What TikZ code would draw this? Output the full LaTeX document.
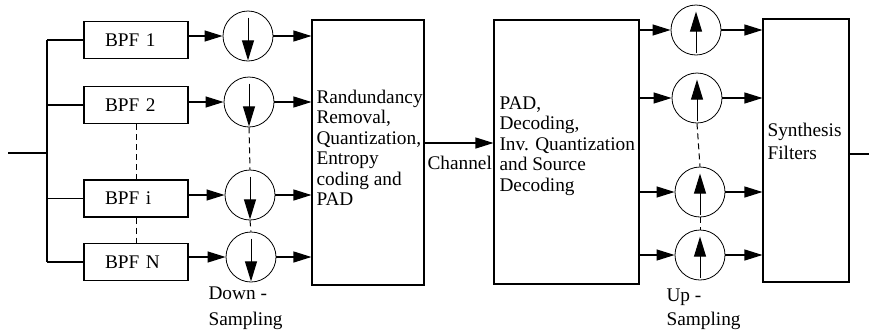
\documentclass[tikz,border=0pt]{standalone}
\usepackage{fontspec}
\setmainfont{Liberation Serif}
\usetikzlibrary{arrows.meta}
\begin{document}
\begin{tikzpicture}[x=1pt,y=-1pt,line width=1.1pt,
  bpf/.style={draw, line width=1.1pt, minimum height=37pt, text width=62pt, align=left, inner xsep=21pt, inner ysep=0pt, font=\fontsize{19.3}{20.5}\selectfont},
  samp/.style={draw, circle, line width=0.8pt, minimum size=50pt, inner sep=0pt},
  big/.style={draw, line width=1.1pt, inner sep=0pt},
  lbl/.style={inner sep=0pt, align=left, font=\fontsize{19.3}{20.5}\selectfont},
  arr/.style={-{Triangle[length=18pt,width=11pt]}},
  iarr/.style={line width=1pt, -{Triangle[length=20pt,width=12pt]}},
  dsh/.style={dash pattern=on 6pt off 4pt, line width=1pt}]
\useasboundingbox (0,0) rectangle (869,330);

% analysis filters
\node[bpf] (bpf1) at (136,40) {BPF 1};
\node[bpf] (bpf2) at (136,105) {BPF 2};
\node[bpf] (bpfi) at (136,198.5) {BPF i};
\node[bpf] (bpfN) at (136,262) {BPF N};

% input and trunk
\coordinate (in) at (8,153);
\coordinate (tr) at (47,153);
\coordinate (ttop) at (47,40);
\coordinate (tbot) at (47,262);
\draw (in) -- (tr);
\draw (ttop) -- (tbot);
\draw (ttop) -- (bpf1.west);
\draw (bpf2.west -| tr) -- (bpf2.west);
\draw (bpfi.west -| tr) -- (bpfi.west);
\draw (tbot) -- (bpfN.west);
\draw[dsh] (bpf2.south) -- (bpfi.north);
\draw[dsh] (bpfi.south) -- (bpfN.north);

% down-samplers
\node[samp] (d1) at (248,36) {};
\node[samp] (d2) at (249,102) {};
\node[samp] (di) at (250,195) {};
\node[samp] (dN) at (251,257) {};
\foreach \c in {d1,d2,di,dN}{
  \draw[iarr] ([yshift=-7pt]\c.north) -- ([yshift=1pt]\c.south);
}
\draw[dsh] (d2.south) -- (di.north);
\draw[dsh] (di.south) -- (dN.north);
\draw[arr] (bpf1.east |- d1) -- (d1.west);
\draw[arr] (bpf2.east |- d2) -- (d2.west);
\draw[arr] (bpfi.east |- di) -- (di.west);
\draw[arr] (bpfN.east |- dN) -- (dN.west);

% encoder
\node[big, minimum width=112pt, minimum height=265pt] (enc) at (368,152.5) {};
\node[lbl, anchor=north west] (enctxt) at (316,89.5) {Randundancy\\Removal,\\Quantization,\\Entropy\\coding and\\PAD};
\draw[arr] (d1.east) -- (d1.east -| enc.west);
\draw[arr] (d2.east) -- (d2.east -| enc.west);
\draw[arr] (di.east) -- (di.east -| enc.west);
\draw[arr] (dN.east) -- (dN.east -| enc.west);

% decoder
\node[big, minimum width=145pt, minimum height=264pt] (dec) at (566.5,152) {};
\node[lbl, anchor=north west] (dectxt) at (499,96) {PAD,\\Decoding,\\Inv. Quantization\\and Source\\Decoding};

% channel
\coordinate (ch) at (450,143);
\draw[arr] (enc.east |- ch) -- (dec.west |- ch);
\node[lbl, anchor=base west] (chtxt) at (427,169.5) {Channel};

% up-samplers
\node[samp] (u1) at (696,30) {};
\node[samp] (u2) at (697,98) {};
\node[samp] (ui) at (700,192) {};
\node[samp] (uN) at (700,255) {};
\foreach \c in {u1,u2,ui,uN}{
  \draw[iarr] ([yshift=2pt]\c.south) -- ([yshift=-7pt]\c.north);
}
\draw[dsh] (u2.south) -- (ui.north);
\draw[dsh] (ui.south) -- (uN.north);

% synthesis
\node[big, minimum width=86pt, minimum height=263pt] (syn) at (806,150.5) {};
\node[lbl, anchor=north west, font=\fontsize{19.3}{23}\selectfont] (syntxt) at (767,122.5) {Synthesis\\Filters};

\foreach \c in {u1,u2,ui,uN}{
  \draw[arr] (dec.east |- \c) -- (\c.west);
  \draw[arr] (\c.east) -- (\c.east -| syn.west);
}

\coordinate (out) at (869,154);
\draw (syn.east |- out) -- (out);

% labels
\node[lbl, anchor=north west, font=\fontsize{19.3}{26}\selectfont] (downtxt) at (208,286) {Down -\\Sampling};
\node[lbl, anchor=north west, font=\fontsize{19.3}{24}\selectfont] (uptxt) at (666,288.5) {Up -\\Sampling};
\end{tikzpicture}
\end{document}
